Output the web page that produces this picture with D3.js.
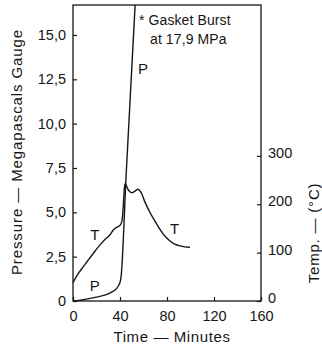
<!DOCTYPE html>
<html>
<head>
<meta charset="utf-8">
<script src="https://cdn.jsdelivr.net/npm/d3@7"></script>
<style>
  body { margin: 0; background: #fff; }
  svg { display: block; }
  text { font-family: "Liberation Sans", Arial, Helvetica, sans-serif; fill: #161616; }
</style>
</head>
<body>
<svg width="322" height="347"></svg>
<script>
// time (min) vs pressure (MPa)
const pTime = [0, 5, 10, 20, 31.5, 37, 39, 40.2, 40.8, 45.3, 52.8, 53.8];
const pValue = [0, 0.03, 0.09, 0.22, 0.45, 0.7, 0.9, 1.1, 1.3, 7.2, 16.6, 17.9];

// time (min) vs temperature (°C)
const tTime = [0, 4, 8.8, 14, 19, 23, 28, 31.5, 34.3, 37, 38.6, 40.5, 41.6, 42.6, 43.4, 44.3, 45.5, 47, 49.5, 52, 55.5, 58, 61, 65.5, 70, 74, 78, 82.6, 87, 91, 95, 99.6];
const tValue = [38, 55, 71, 88, 104, 116, 129, 137, 147, 152, 154, 158, 165, 190, 220, 242, 238, 230, 224, 226, 231, 224, 206, 183, 164, 148, 135, 124, 117, 114, 112, 111];

const xTicks = [0, 40, 80, 120, 160];
const pTicks = [0, 2.5, 5, 7.5, 10, 12.5, 15];
const tTicks = [0, 100, 200, 300];

const svg = d3.select("svg");
const ink = "#161616";

const x = d3.scaleLinear().domain([0, 160]).range([73, 261]);
const yP = d3.scaleLinear().domain([0, 16.69]).range([301, 5]);
const yT = d3.scaleLinear().domain([0, 612]).range([301, 5]);

const commaFmt = function (d) {
  return d === 0 ? "0" : d.toFixed(1).replace(".", ",");
};

svg.append("defs").append("clipPath").attr("id", "plotClip")
  .append("rect").attr("x", 73).attr("y", 5).attr("width", 188).attr("height", 296);

// frame
svg.append("rect")
  .attr("x", 73).attr("y", 5).attr("width", 188).attr("height", 296)
  .attr("fill", "none").attr("stroke", ink).attr("stroke-width", 1.3);

function styleAxis(g) {
  g.select(".domain").remove();
  g.selectAll(".tick line").attr("stroke", ink).attr("stroke-width", 1.2);
  g.selectAll(".tick text").attr("font-size", 14.5).attr("fill", ink)
    .style("font-family", "'Liberation Sans', Arial, sans-serif");
}

svg.append("g")
  .attr("transform", "translate(0,301)")
  .call(d3.axisBottom(x).tickValues(xTicks).tickSize(-4).tickPadding(10).tickFormat(d3.format("d")))
  .call(styleAxis);

svg.append("g")
  .attr("transform", "translate(73,0)")
  .call(d3.axisLeft(yP).tickValues(pTicks).tickSize(-4).tickPadding(7).tickFormat(commaFmt))
  .call(styleAxis);

svg.append("g")
  .attr("transform", "translate(261,0)")
  .call(d3.axisRight(yT).tickValues(tTicks).tickSize(-4).tickPadding(7).tickFormat(d3.format("d")))
  .call(styleAxis)
  .call(function (g) { g.selectAll(".tick text").attr("dy", "0.1em"); });

// curves
const pData = pTime.map(function (t, i) { return [t, pValue[i]]; });
const tData = tTime.map(function (t, i) { return [t, tValue[i]]; });

svg.append("path")
  .datum(pData)
  .attr("clip-path", "url(#plotClip)")
  .attr("fill", "none").attr("stroke", ink).attr("stroke-width", 1.4)
  .attr("d", d3.line()
    .x(function (d) { return x(d[0]); })
    .y(function (d) { return yP(d[1]); })
    .curve(d3.curveMonotoneX));

svg.append("path")
  .datum(tData)
  .attr("fill", "none").attr("stroke", ink).attr("stroke-width", 1.4)
  .attr("d", d3.line()
    .x(function (d) { return x(d[0]); })
    .y(function (d) { return yT(d[1]); })
    .curve(d3.curveCatmullRom));

// curve labels
const curveLabels = [
  { text: "T", t: 18.5, v: 134, axis: "T" },
  { text: "P", t: 18.5, v: 0.8, axis: "P" },
  { text: "P", t: 59.5, v: 13.0, axis: "P" },
  { text: "T", t: 86.5, v: 147, axis: "T" }
];
svg.selectAll("curveLabels")
  .data(curveLabels)
  .enter()
  .append("text")
  .attr("x", function (d) { return x(d.t); })
  .attr("y", function (d) { return d.axis === "T" ? yT(d.v) : yP(d.v); })
  .attr("text-anchor", "middle")
  .attr("dominant-baseline", "middle")
  .attr("font-size", 15)
  .text(function (d) { return d.text; });

// note
svg.append("text")
  .attr("x", 139).attr("y", 25)
  .attr("font-size", 14).attr("letter-spacing", 0.1)
  .text("* Gasket Burst");
svg.append("text")
  .attr("x", 150).attr("y", 44)
  .attr("font-size", 14).attr("letter-spacing", 0.1)
  .text("at 17,9 MPa");

// axis titles
svg.append("text")
  .attr("x", 172).attr("y", 342)
  .attr("text-anchor", "middle")
  .attr("font-size", 15).attr("letter-spacing", 0.6)
  .text("Time \u2014 Minutes");

svg.append("text")
  .attr("transform", "translate(22,152) rotate(-90)")
  .attr("text-anchor", "middle")
  .attr("font-size", 15).attr("letter-spacing", 0.9)
  .text("Pressure \u2014 Megapascals Gauge");

svg.append("text")
  .attr("transform", "translate(319,233) rotate(-90)")
  .attr("text-anchor", "middle")
  .attr("font-size", 15).attr("letter-spacing", 0.8)
  .text("Temp. \u2014 (\u00b0C)");
</script>
</body>
</html>
